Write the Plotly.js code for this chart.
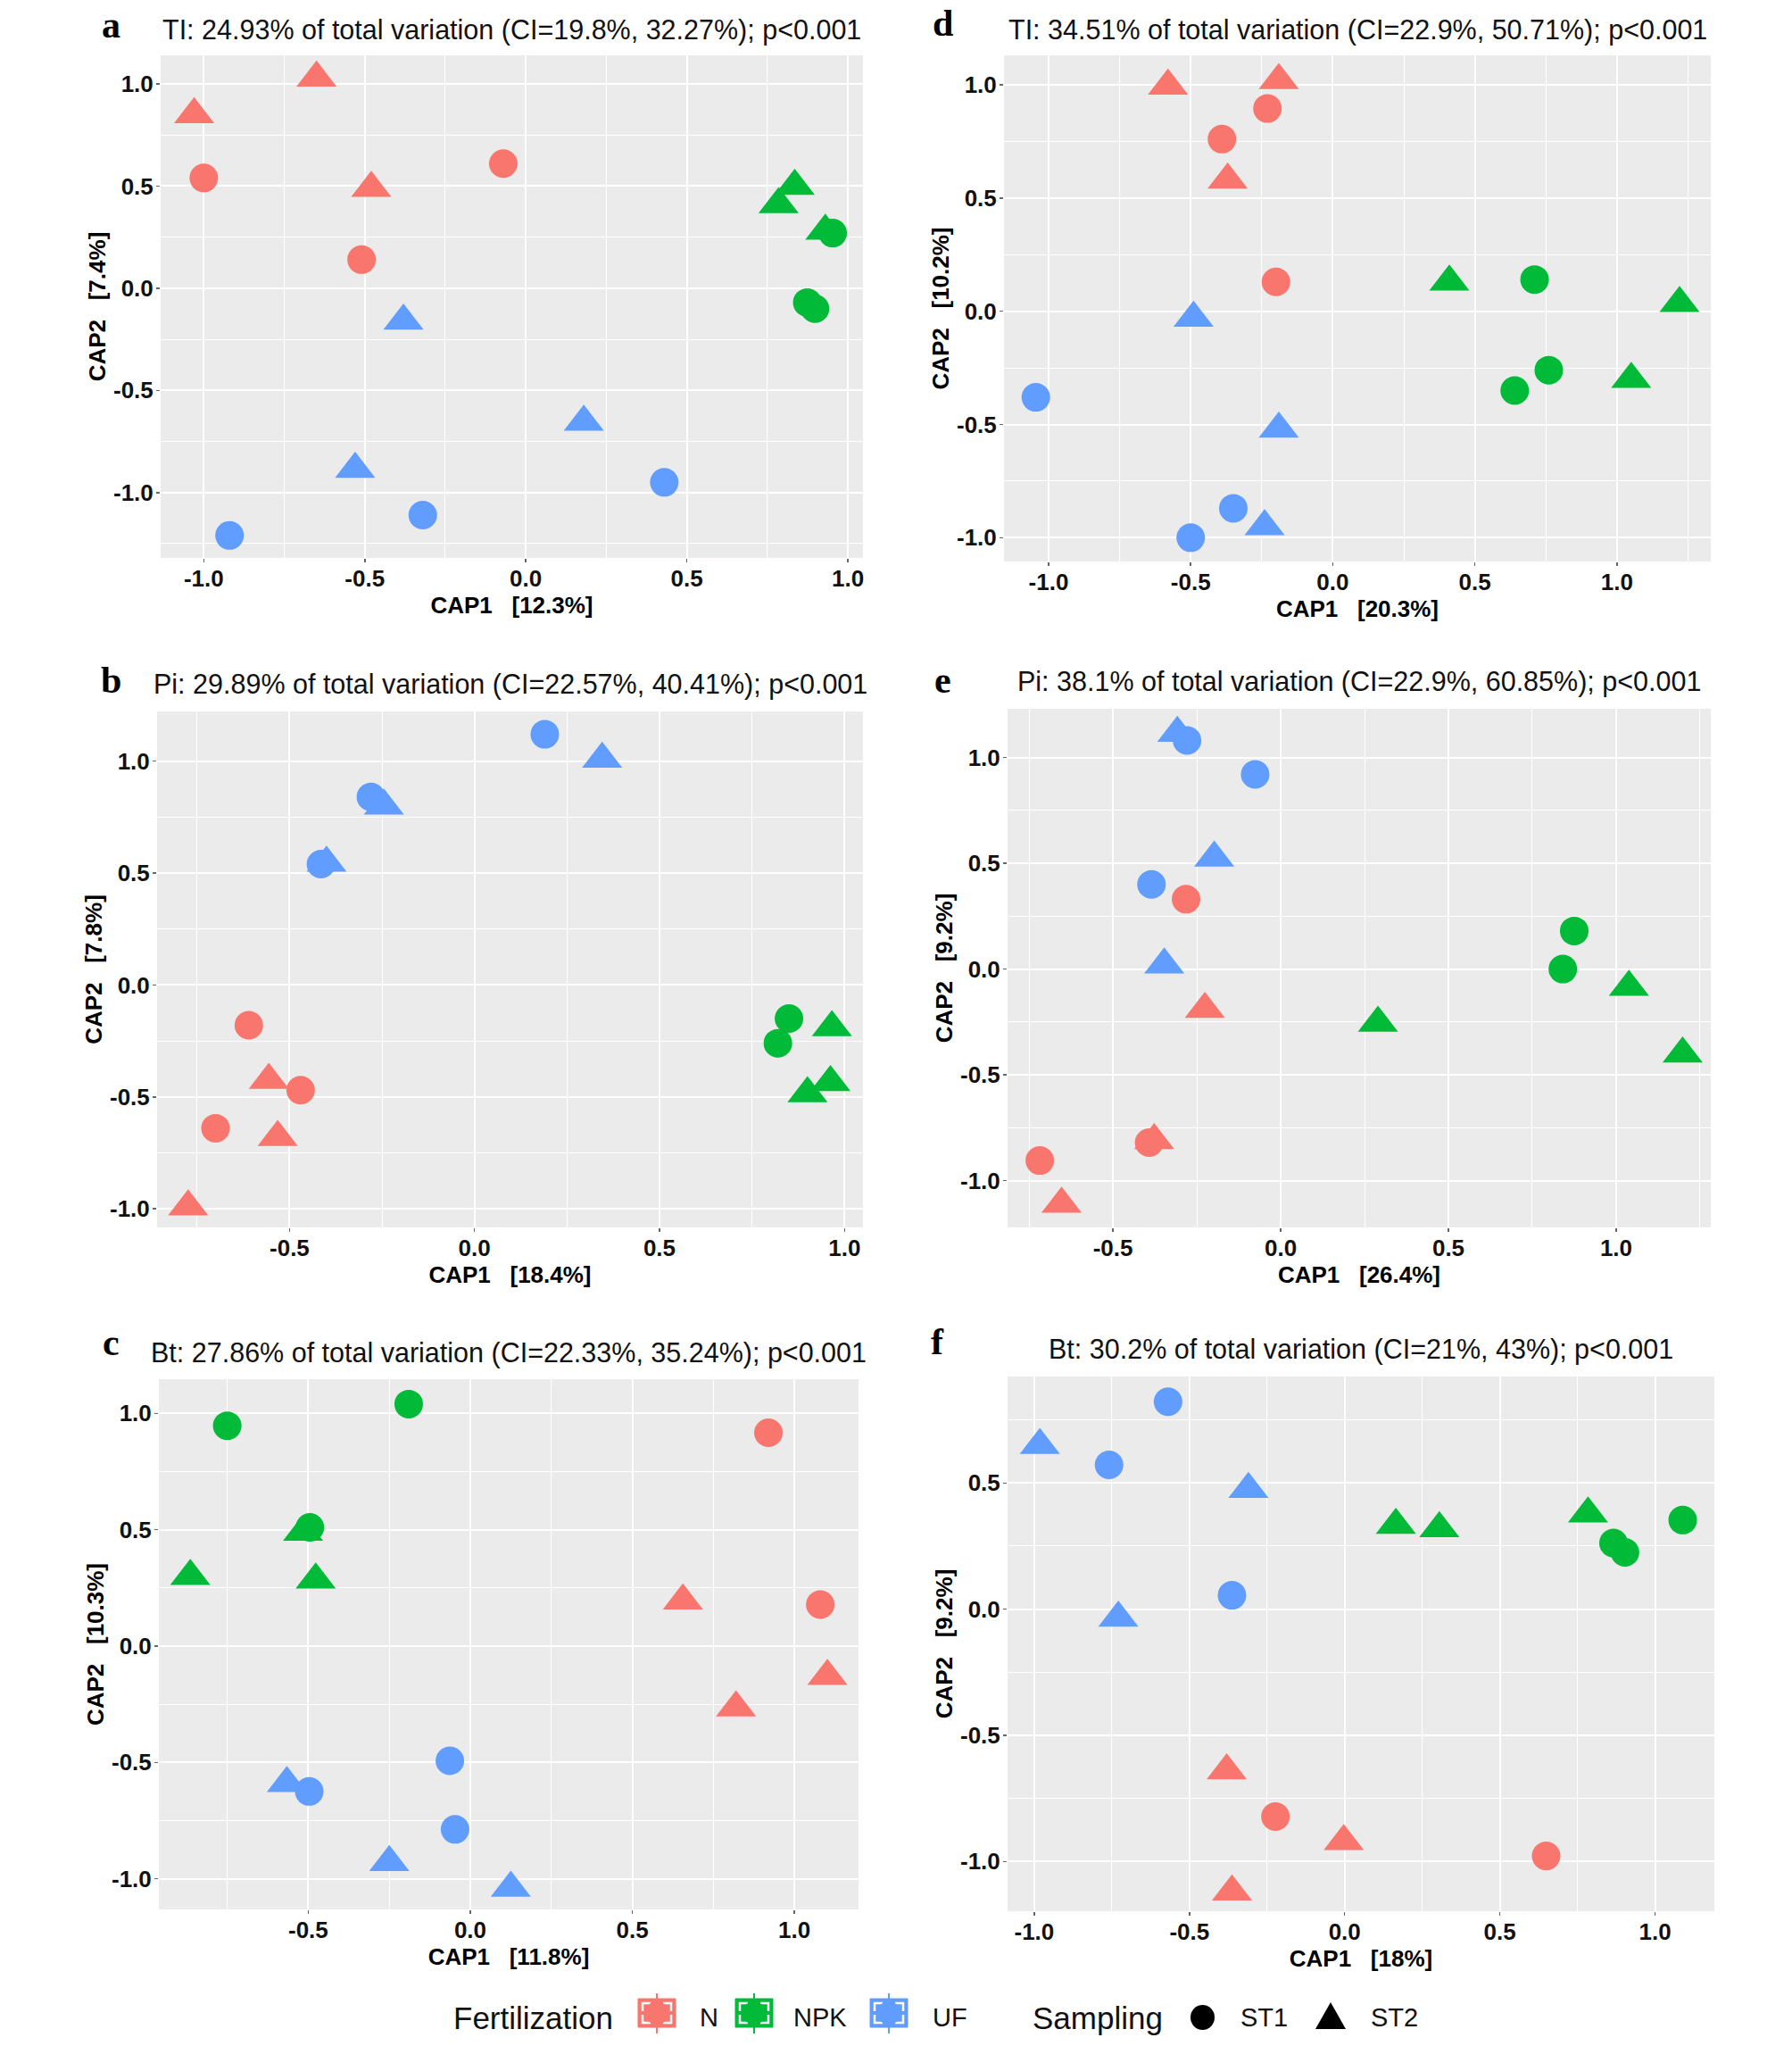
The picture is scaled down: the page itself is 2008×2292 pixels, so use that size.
<!DOCTYPE html>
<html><head><meta charset="utf-8">
<script src="https://cdn.plot.ly/plotly-3.0.1.min.js"></script>
<style>html,body{margin:0;padding:0;background:#fff}</style>
</head><body><div id="chart" style="width:2008px;height:2292px"></div>
<script>
// ---------- data ----------
const fertLevels = ['N', 'NPK', 'UF'];
const sampLevels = ['ST1', 'ST2'];
const fertColors = ['#F8766D', '#00BA38', '#619CFF'];

// panel a: TI
const aTitle = 'TI: 24.93% of total variation (CI=19.8%, 32.27%); p<0.001';
const aXTitle = 'CAP1   [12.3%]', aYTitle = 'CAP2   [7.4%]';
const aX    = [-1.03, -0.65, -0.48, 0.785, 0.835, 0.93, -0.38, 0.18, -0.53, -1.00, -0.07, -0.51, 0.953, 0.874, 0.898, 0.43, -0.32, -0.92];
const aY    = [0.85, 1.03, 0.49, 0.41, 0.50, 0.28, -0.16, -0.655, -0.885, 0.54, 0.61, 0.14, 0.27, -0.07, -0.10, -0.95, -1.11, -1.21];
const aFert = ['N','N','N','NPK','NPK','NPK','UF','UF','UF','N','N','N','NPK','NPK','NPK','UF','UF','UF'];
const aSamp = ['ST2','ST2','ST2','ST2','ST2','ST2','ST2','ST2','ST2','ST1','ST1','ST1','ST1','ST1','ST1','ST1','ST1','ST1'];

// panel b: Pi
const bTitle = 'Pi: 29.89% of total variation (CI=22.57%, 40.41%); p<0.001';
const bXTitle = 'CAP1   [18.4%]', bYTitle = 'CAP2   [7.8%]';
const bX    = [-0.556, -0.532, -0.774, 0.966, 0.962, 0.90, 0.345, -0.245, -0.40, -0.61, -0.47, -0.70, 0.85, 0.82, 0.19, -0.28, -0.415];
const bY    = [-0.425, -0.68, -0.99, -0.19, -0.435, -0.485, 1.01, 0.80, 0.545, -0.18, -0.47, -0.64, -0.15, -0.26, 1.12, 0.84, 0.54];
const bFert = ['N','N','N','NPK','NPK','NPK','UF','UF','UF','N','N','N','NPK','NPK','UF','UF','UF'];
const bSamp = ['ST2','ST2','ST2','ST2','ST2','ST2','ST2','ST2','ST2','ST1','ST1','ST1','ST1','ST1','ST1','ST1','ST1'];

// panel c: Bt
const cTitle = 'Bt: 27.86% of total variation (CI=22.33%, 35.24%); p<0.001';
const cXTitle = 'CAP1   [11.8%]', cYTitle = 'CAP2   [10.3%]';
const cX    = [0.656, 1.102, 0.82, -0.864, -0.516, -0.477, -0.566, -0.25, 0.125, 0.92, 1.08, -0.75, -0.19, -0.495, -0.063, -0.497, -0.047];
const cY    = [0.195, -0.13, -0.265, 0.30, 0.49, 0.285, -0.59, -0.93, -1.04, 0.917, 0.178, 0.947, 1.04, 0.51, -0.493, -0.625, -0.788];
const cFert = ['N','N','N','NPK','NPK','NPK','UF','UF','UF','N','N','NPK','NPK','NPK','UF','UF','UF'];
const cSamp = ['ST2','ST2','ST2','ST2','ST2','ST2','ST2','ST2','ST2','ST1','ST1','ST1','ST1','ST1','ST1','ST1','ST1'];

// panel d: TI
const dTitle = 'TI: 34.51% of total variation (CI=22.9%, 50.71%); p<0.001';
const dXTitle = 'CAP1   [20.3%]', dYTitle = 'CAP2   [10.2%]';
const dX    = [-0.58, -0.19, -0.37, 0.41, 1.22, 1.05, -0.49, -0.19, -0.24, -0.23, -0.39, -0.20, 0.71, 0.76, 0.64, -1.045, -0.35, -0.50];
const dY    = [0.995, 1.02, 0.58, 0.13, 0.035, -0.30, -0.03, -0.52, -0.95, 0.895, 0.76, 0.13, 0.14, -0.26, -0.35, -0.38, -0.87, -1.00];
const dFert = ['N','N','N','NPK','NPK','NPK','UF','UF','UF','N','N','N','NPK','NPK','NPK','UF','UF','UF'];
const dSamp = ['ST2','ST2','ST2','ST2','ST2','ST2','ST2','ST2','ST2','ST1','ST1','ST1','ST1','ST1','ST1','ST1','ST1','ST1'];

// panel e: Pi
const eTitle = 'Pi: 38.1% of total variation (CI=22.9%, 60.85%); p<0.001';
const eXTitle = 'CAP1   [26.4%]', eYTitle = 'CAP2   [9.2%]';
const eX    = [-0.226, -0.377, -0.653, 1.038, 0.29, 1.198, -0.308, -0.198, -0.347, -0.282, -0.392, -0.718, 0.875, 0.841, -0.279, -0.076, -0.385];
const eY    = [-0.19, -0.81, -1.11, -0.085, -0.255, -0.40, 1.115, 0.525, 0.02, 0.33, -0.82, -0.905, 0.18, 0.0, 1.08, 0.92, 0.40];
const eFert = ['N','N','N','NPK','NPK','NPK','UF','UF','UF','N','N','N','NPK','NPK','UF','UF','UF'];
const eSamp = ['ST2','ST2','ST2','ST2','ST2','ST2','ST2','ST2','ST2','ST1','ST1','ST1','ST1','ST1','ST1','ST1','ST1'];

// panel f: Bt
const fTitle = 'Bt: 30.2% of total variation (CI=21%, 43%); p<0.001';
const fXTitle = 'CAP1   [18%]', fYTitle = 'CAP2   [9.2%]';
const fX    = [-0.38, -0.003, -0.363, 0.165, 0.305, 0.784, -0.982, -0.31, -0.729, -0.223, 0.649, 1.089, 0.866, 0.903, -0.569, -0.759, -0.363];
const fY    = [-0.64, -0.92, -1.12, 0.333, 0.32, 0.378, 0.65, 0.475, -0.035, -0.822, -0.978, 0.353, 0.262, 0.225, 0.822, 0.572, 0.055];
const fFert = ['N','N','N','NPK','NPK','NPK','UF','UF','UF','N','N','NPK','NPK','NPK','UF','UF','UF'];
const fSamp = ['ST2','ST2','ST2','ST2','ST2','ST2','ST2','ST2','ST2','ST1','ST1','ST1','ST1','ST1','ST1','ST1','ST1'];

// tick breaks
const ticks5 = [-1.0, -0.5, 0.0, 0.5, 1.0];
const ticks4 = [-0.5, 0.0, 0.5, 1.0];
const ticksF = [-1.0, -0.5, 0.0, 0.5];

// ---------- layout config ----------
const W = 2008, H = 2292;
const FONT = 'Liberation Sans, Arial, sans-serif';
const panels = [
  {L:'a', x:aX, y:aY, fert:aFert, samp:aSamp, title:aTitle, xt:aXTitle, yt:aYTitle, xticks:ticks5, yticks:ticks5,
   px:[180,967], py:[62,625], xr:[-1.134,1.047], yr:[-1.32,1.14], ty:33, ly:28, lx:124},
  {L:'d', x:dX, y:dY, fert:dFert, samp:dSamp, title:dTitle, xt:dXTitle, yt:dYTitle, xticks:ticks5, yticks:ticks5,
   px:[1125,1917], py:[62,629], xr:[-1.157,1.33], yr:[-1.105,1.13], ty:33, ly:26, lx:1056},
  {L:'b', x:bX, y:bY, fert:bFert, samp:bSamp, title:bTitle, xt:bXTitle, yt:bYTitle, xticks:ticks4, yticks:ticks5,
   px:[176,967], py:[797,1375], xr:[-0.858,1.05], yr:[-1.083,1.222], ty:767, ly:762, lx:124},
  {L:'e', x:eX, y:eY, fert:eFert, samp:eSamp, title:eTitle, xt:eXTitle, yt:eYTitle, xticks:ticks4, yticks:ticks5,
   px:[1129,1917], py:[794,1375], xr:[-0.814,1.282], yr:[-1.221,1.23], ty:764, ly:762, lx:1056},
  {L:'c', x:cX, y:cY, fert:cFert, samp:cSamp, title:cTitle, xt:cXTitle, yt:cYTitle, xticks:ticks4, yticks:ticks5,
   px:[178,962], py:[1545,2139], xr:[-0.961,1.198], yr:[-1.132,1.147], ty:1515, ly:1504, lx:124},
  {L:'f', x:fX, y:fY, fert:fFert, samp:fSamp, title:fTitle, xt:fXTitle, yt:fYTitle, xticks:ticks5, yticks:ticksF,
   px:[1129,1921], py:[1542,2141], xr:[-1.086,1.191], yr:[-1.197,0.922], ty:1511, ly:1503, lx:1050}
];

const fmt = v => v.toFixed(1);
const nb = s => s.replace(/ /g, '\u00a0');

const data = [];
const layout = {
  width: W, height: H,
  margin: {l:0, r:0, t:0, b:0},
  paper_bgcolor: '#FFFFFF',
  plot_bgcolor: '#EBEBEB',
  showlegend: false,
  font: {family: FONT, color: '#000'},
  annotations: [],
  shapes: []
};

panels.forEach((p, i) => {
  const n = i + 1;
  const xa = 'xaxis' + (n === 1 ? '' : n), ya = 'yaxis' + (n === 1 ? '' : n);
  const xr = 'x' + (n === 1 ? '' : n), yr = 'y' + (n === 1 ? '' : n);
  data.push({
    type: 'scatter', mode: 'markers', x: p.x, y: p.y, xaxis: xr, yaxis: yr,
    marker: {
      color: p.fert.map(f => fertColors[fertLevels.indexOf(f)]),
      symbol: p.samp.map(s => s === 'ST1' ? 'circle' : 'triangle-up'),
      size: p.samp.map(s => s === 'ST1' ? 32 : 39),
      opacity: 1,
      line: {width: 0}
    },
    hoverinfo: 'x+y'
  });
  const axCommon = {
    showgrid: true, gridcolor: '#FFFFFF', gridwidth: 2,
    zeroline: false, showline: false,
    ticks: 'outside', ticklen: 4, tickwidth: 1.5, tickcolor: '#666666',
    ticklabelstandoff: -4,
    tickfont: {family: FONT, size: 26, color: '#111111', weight: 'bold'},
    tickmode: 'array',
    minor: {tickmode: 'linear', tick0: 0.25, dtick: 0.5, showgrid: true, gridcolor: '#FFFFFF', gridwidth: 1, ticks: ''}
  };
  layout[xa] = Object.assign({}, axCommon, {
    domain: [p.px[0] / W, p.px[1] / W], range: p.xr,
    tickvals: p.xticks, ticktext: p.xticks.map(fmt),
    anchor: yr,
    title: {text: nb(p.xt), font: {family: FONT, size: 26, weight: 'bold', color: '#000'}, standoff: 2}
  });
  layout[ya] = Object.assign({}, axCommon, {
    domain: [1 - p.py[1] / H, 1 - p.py[0] / H], range: p.yr,
    tickvals: p.yticks, ticktext: p.yticks.map(fmt),
    anchor: xr,
    ticklabelstandoff: -2,
    title: {text: nb(p.yt), font: {family: FONT, size: 26, weight: 'bold', color: '#000'}, standoff: 0}
  });
  layout.annotations.push({
    xref: 'paper', yref: 'paper', x: (p.px[0] + p.px[1]) / 2 / W, y: 1 - p.ty / H,
    xanchor: 'center', yanchor: 'middle', showarrow: false, text: p.title,
    font: {family: FONT, size: 30.5, color: '#111'}
  });
  layout.annotations.push({
    xref: 'paper', yref: 'paper', x: p.lx / W, y: 1 - p.ly / H,
    xanchor: 'center', yanchor: 'middle', showarrow: false, text: p.L,
    font: {family: 'Liberation Serif, Times New Roman, serif', size: 42, weight: 'bold', color: '#000'}
  });
});

// ---------- legend (drawn as decoration) ----------
const legY = 2260, keyY = 2255;
const px2x = v => v / W, px2y = v => 1 - v / H;
const legText = (txt, x, size) => layout.annotations.push({
  xref: 'paper', yref: 'paper', x: px2x(x), y: px2y(legY), xanchor: 'left', yanchor: 'middle',
  showarrow: false, text: txt, font: {family: FONT, size: size, color: '#111'}
});
const pathOf = pts => pts.map((q, j) => (j ? 'L' : 'M') + px2x(q[0]) + ',' + px2y(q[1])).join(' ');
legText('Fertilization', 506, 35);
const keyX = [715, 824, 975], labX = [782, 887, 1043];
fertLevels.forEach((f, k) => {
  const x0 = keyX[k], x1 = x0 + 42, y0 = keyY - 16, y1 = keyY + 16, cx = x0 + 21;
  layout.shapes.push({type: 'line', xref: 'paper', yref: 'paper',
    x0: px2x(cx), x1: px2x(cx), y0: px2y(keyY - 22), y1: px2y(keyY + 23),
    line: {color: fertColors[k], width: 2}});
  layout.shapes.push({type: 'rect', xref: 'paper', yref: 'paper',
    x0: px2x(x0), x1: px2x(x1), y0: px2y(y1), y1: px2y(y0),
    fillcolor: fertColors[k], line: {color: fertColors[k], width: 1}});
  // white corner brackets of the key
  const a = 5, b = 9;
  [[x0 + a, y0 + a, 1, 1], [x1 - a, y0 + a, -1, 1], [x0 + a, y1 - a, 1, -1], [x1 - a, y1 - a, -1, -1]].forEach(c => {
    layout.shapes.push({type: 'path', xref: 'paper', yref: 'paper',
      path: pathOf([[c[0], c[1] + c[3] * b], [c[0], c[1]], [c[0] + c[2] * b, c[1]]]),
      line: {color: '#FFFFFF', width: 2.5}});
  });
  layout.shapes.push({type: 'circle', xref: 'paper', yref: 'paper',
    x0: px2x(cx - 13), x1: px2x(cx + 13), y0: px2y(keyY + 13), y1: px2y(keyY - 13),
    fillcolor: fertColors[k], line: {width: 0}});
  legText(f, labX[k], 29);
});
legText('Sampling', 1155, 35);
layout.shapes.push({type: 'circle', xref: 'paper', yref: 'paper',
  x0: px2x(1334), x1: px2x(1361), y0: px2y(legY + 14), y1: px2y(legY - 14), fillcolor: '#000', line: {width: 0}});
legText(sampLevels[0], 1388, 29);
layout.shapes.push({type: 'path', xref: 'paper', yref: 'paper',
  path: pathOf([[1491, legY - 17], [1508, legY + 13], [1474, legY + 13]]) + ' Z',
  fillcolor: '#000', line: {width: 0}});
legText(sampLevels[1], 1534, 29);

Plotly.newPlot('chart', data, layout, {staticPlot: true, displayModeBar: false});
</script>
</body></html>
